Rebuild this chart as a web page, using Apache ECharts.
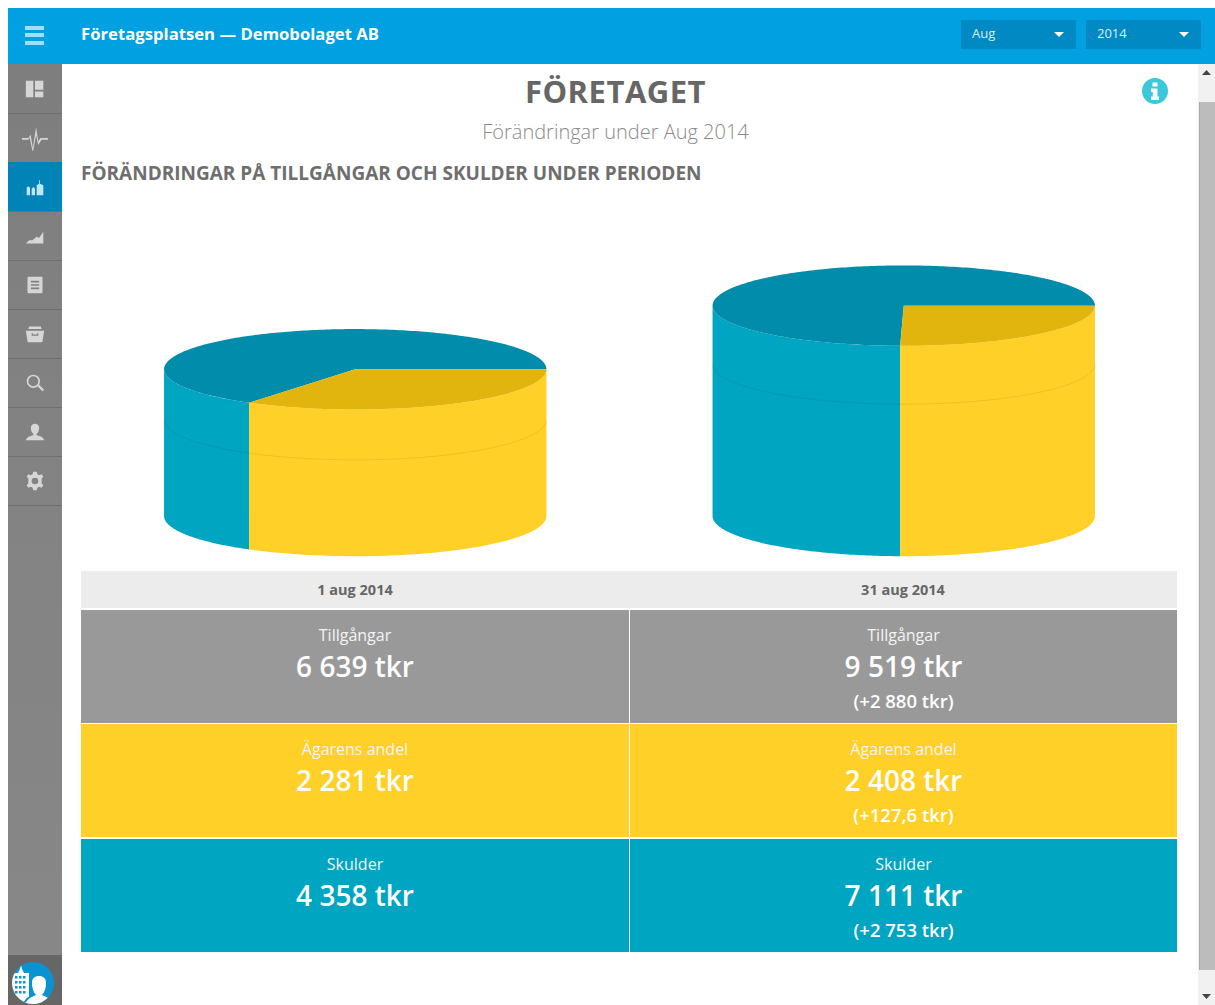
<!DOCTYPE html>
<html lang="sv">
<head>
<meta charset="utf-8">
<title>Företagsplatsen — Demobolaget AB</title>
<script src="https://cdn.jsdelivr.net/npm/echarts@6/dist/echarts.min.js"></script>
<style>
    html, body { margin: 0; height: 100%; background: #fff; overflow: hidden; font-family: 'Open Sans', 'Noto Sans', sans-serif; }
    .abs { position: absolute; }
    #topbar { left: 8px; top: 8px; width: 1207px; height: 56px; background: #00a0e1; }
    #brand { left: 81px; top: 23px; color: #fff; font-size: 16.7px; font-weight: 700; line-height: 22px; white-space: nowrap; }
    .burger { left: 25px; width: 19px; height: 4px; background: #a4def6; }
    .select { top: 20px; width: 115px; height: 29px; background: #0089c2; color: #d8f0fa; font-size: 13px; line-height: 27px; text-indent: 11px; }
    .select i { position: absolute; right: 12px; top: 12px; border: 5.500px solid transparent; border-top-color: #fff; border-bottom: 0; }
    #sidebar { left: 8px; top: 64px; width: 54px; height: 941px; background: linear-gradient(#7e7e7e, #888); }
    .nav { position: absolute; left: 0; width: 54px; height: 49px; box-sizing: border-box; border-top: 1px solid #6f6f6f; }
    .nav.active { background: #0083b7; border-top-color: #0083b7; }
    .nav svg { position: absolute; top: 14px; }
    #avatar { left: 8px; top: 955px; width: 54px; height: 50px; background: #666; overflow: hidden; }
    #scrollbar { left: 1198px; top: 64px; width: 17px; height: 941px; background: #f1f1f1; }
    #thumb { left: 1px; top: 38px; width: 16px; height: 868px; background: #bcbcbc; border-left: 1px solid #a8a8a8; box-sizing: border-box; }
    #title { left: 81px; width: 1069px; top: 71px; text-align: center; font-size: 31px; font-weight: 700; letter-spacing: 0.5px; color: #666; line-height: 40px; }
    #subtitle { left: 81px; width: 1069px; top: 118px; text-align: center; font-size: 20px; font-weight: 300; color: #8a8a8a; line-height: 28px; }
    #heading { left: 81px; top: 160px; font-size: 19px; font-weight: 700; color: #6e6e6e; line-height: 26px; white-space: nowrap; }
    #chart { left: 81px; top: 200px; width: 1097px; height: 370px; }
    #dates { left: 81px; top: 571px; width: 1096px; height: 37px; background: #ececec; }
    #dates div { position: absolute; top: 0; width: 548px; text-align: center; font-size: 14.500px; font-weight: 700; color: #666; line-height: 38px; }
    .cell { position: absolute; color: #fff; text-align: center; height: 113px; }
    .cell .label { position: absolute; left: 0; right: 0; top: 15px; font-size: 16px; line-height: 20px; color: #f4f4f4; }
    .cell .value { position: absolute; left: 0; right: 0; top: 37px; font-size: 28px; font-weight: 600; line-height: 38px; }
    .cell .delta { position: absolute; left: 0; right: 0; top: 79px; font-size: 18.500px; font-weight: 600; line-height: 24px; }
</style>
</head>
<body>
<div id="topbar" class="abs"></div>
<div class="abs burger" style="top:26px"></div>
<div class="abs burger" style="top:33px"></div>
<div class="abs burger" style="top:41px"></div>
<div id="brand" class="abs">Företagsplatsen — Demobolaget AB</div>
<div class="abs select" style="left:961px">Aug<i></i></div>
<div class="abs select" style="left:1086px">2014<i></i></div>

<div id="sidebar" class="abs"></div>
<div id="avatar" class="abs">
    <svg width="54" height="50" viewBox="0 0 54 50">
        <defs><clipPath id="round"><circle cx="25" cy="28" r="21"/></clipPath></defs>
        <circle cx="25" cy="28" r="21" fill="#0a93d0"/>
        <g clip-path="url(#round)">
            <path d="M4 50V18h6l2-4 1-4 1 4 2 4h5v32z" fill="#fff"/>
            <path d="M7 21h2.500v2.500H7zM11 21h2.500v2.500H11zM15 21h2.500v2.500H15zM7 26h2.500v2.500H7zM11 26h2.500v2.500H11zM15 26h2.500v2.500H15zM7 31h2.500v2.500H7zM11 31h2.500v2.500H11zM15 31h2.500v2.500H15zM7 36h2.500v2.500H7zM11 36h2.500v2.500H11zM15 36h2.500v2.500H15z" fill="#0a93d0"/>
            <path d="M15 52c0-8 6-11 11-13-3-3-4-7-4-11 0-6 4-9 9-9s9 3 9 9c0 4-1 8-4 11 5 2 11 5 11 13z" fill="#0a93d0"/>
            <path d="M17 52c0-7 6-10 11-12-3-3-4-8-4-12 0-5 3-7 7-7s7 2 7 7c0 4-1 9-4 12 5 2 11 5 11 12z" fill="#fff"/>
        </g>
    </svg>
</div>

<div id="scrollbar" class="abs">
    <div id="thumb" class="abs"></div>
    <svg class="abs" style="left:4px;top:6px" width="9" height="5"><path d="M0 5L4.500 0L9 5z" fill="#444"/></svg>
    <svg class="abs" style="left:4px;top:930px" width="9" height="5"><path d="M0 0L4.500 5L9 0z" fill="#444"/></svg>
</div>

<div id="title" class="abs">FÖRETAGET</div>
<div id="subtitle" class="abs">Förändringar under Aug 2014</div>
<div id="heading" class="abs">FÖRÄNDRINGAR PÅ TILLGÅNGAR OCH SKULDER UNDER PERIODEN</div>
<svg class="abs" style="left:1142px;top:78px" width="26" height="26" viewBox="0 0 26 26">
    <circle cx="13" cy="13" r="13" fill="#3cc8dc"/>
    <path d="M10.500 4.500h5v4h-5zM9 10.500h6.500v8H17v3.500H9v-3.500h1.800v-4.500H9z" fill="#fff"/>
</svg>

<div id="chart" class="abs"></div>
<div id="dates" class="abs"></div>
<div id="rows"></div>

<script>
    // Värden i tkr
    const dates = ['1 aug 2014', '31 aug 2014'];
    const assets = [6639, 9519];
    const ownerShare = [2281, 2408];
    const debts = [4358, 7111];
    const changes = [
        [null, '(+2 880 tkr)'],
        [null, '(+127,6 tkr)'],
        [null, '(+2 753 tkr)']
    ];
    const rowLabels = ['Tillgångar', 'Ägarens andel', 'Skulder'];
    // Den tunna ringen på cylindersidan, avstånd från ovansidan i tkr
    const ringDepth = [2281, 2640];

    const COLORS = {
        owner: '#ffd028', ownerTop: '#e2b50e',
        debt: '#00a5c2', debtTop: '#008caa',
        assets: '#999999'
    };
    const RADIUS_X = 191.2;
    const RADIUS_Y = 40.2;

    const fmt = (n) => String(n).replace(/\B(?=(\d{3})+$)/g, ' ') + ' tkr';

    // Sidomenyn
    const navIcons = [
        '<path d="M1 2h9v20H1zM12 2h10v11H12zM12 15h10v7H12z"/>',
        '<path d="M0 12h6l2-3 2 12 3-19 2 13 2-3h7v1.500h-6l-3 5-2-9-3 16-3-14-1 2H0z"/>',
        '<path d="M2 22v-9l2-2 2 2v9zM8 22v-8l2-2 2 2v8zM14 22V10l3-2V4h1v4l4 2v12z"/>',
        '<path d="M1 21l4-4 4 0 5-4 3 1 5-7v14z"/>',
        '<path d="M4 2h16a1 1 0 0 1 1 1v18a1 1 0 0 1-1 1H4a1 1 0 0 1-1-1V3a1 1 0 0 1 1-1zM7 7v2h10V7zM7 11v2h10v-2zM7 15v2h10v-2z" fill-rule="evenodd"/>',
        '<path d="M5 3h14l1 3H4zM1 8h22l-2 13a1 1 0 0 1-1 1H4a1 1 0 0 1-1-1zM8 11v3h8v-3h-1.500v1.500h-5V11z" fill-rule="evenodd"/>',
        '<path d="M10 2a8 8 0 1 1 0 16 8 8 0 0 1 0-16zm0 2a6 6 0 1 0 0 12 6 6 0 0 0 0-12zM15 16l2-2 6 6-2 2z" fill-rule="evenodd"/>',
        '<path d="M12 2c3 0 5 2 5 5 0 3-1 6-3 7v2c4 1 8 2 9 6H1c1-4 5-5 9-6v-2c-2-1-3-4-3-7 0-3 2-5 5-5z"/>',
        '<path d="M10 1h4l1 3 2 1 3-1 2 3-2 2v6l2 2-2 3-3-1-2 1-1 3h-4l-1-3-2-1-3 1-2-3 2-2V9L2 7l2-3 3 1 2-1zM12 8a4 4 0 1 0 0 8 4 4 0 0 0 0-8z" fill-rule="evenodd"/>'
    ];
    const sidebar = document.getElementById('sidebar');
    navIcons.forEach((icon, i) => {
        const fill = i === 2 ? '#bfe6f5' : '#d6d6d6';
        const size = i === 1 ? 26 : 20;
        const item = document.createElement('div');
        item.className = i === 2 ? 'nav active' : 'nav';
        item.style.top = `${i * 49}px`;
        if (i === 0) item.style.borderTopColor = 'transparent';
        item.innerHTML = `<svg style="left:${(54 - size) / 2}px;top:${(47 - size) / 2}px" width="${size}" height="${size}" viewBox="0 0 24 24" fill="${fill}">${icon}</svg>`;
        sidebar.appendChild(item);
    });
    const navEnd = document.createElement('div');
    navEnd.className = 'nav';
    navEnd.style.top = `${navIcons.length * 49}px`;
    navEnd.style.height = '1px';
    sidebar.appendChild(navEnd);

    // Tabellen under diagrammet
    const datesEl = document.getElementById('dates');
    dates.forEach((d, i) => {
        const el = document.createElement('div');
        el.style.left = `${i * 548}px`;
        el.textContent = d;
        datesEl.appendChild(el);
    });

    const rowValues = [assets, ownerShare, debts];
    const rowColors = [COLORS.assets, COLORS.owner, COLORS.debt];
    const rowTops = [610, 724, 839];
    const colLefts = [81, 630];
    const colWidths = [548, 547];
    const rowsEl = document.getElementById('rows');
    rowLabels.forEach((label, r) => {
        dates.forEach((d, c) => {
            const cell = document.createElement('div');
            cell.className = 'cell';
            cell.style.cssText = `left:${colLefts[c]}px;top:${rowTops[r]}px;width:${colWidths[c]}px;background:${rowColors[r]};`;
            let html = `<div class="label">${label}</div><div class="value">${fmt(rowValues[r][c])}</div>`;
            if (changes[r][c]) html += `<div class="delta">${changes[r][c]}</div>`;
            cell.innerHTML = html;
            rowsEl.appendChild(cell);
        });
    });

    // Cylindrarna: vinklarna räknas från 3 på klockan, medurs
    const rim = (cx, cy, fromDeg, toDeg) => {
        const points = [];
        const steps = Math.max(1, Math.ceil(Math.abs(toDeg - fromDeg)));
        for (let s = 0; s <= steps; s++) {
            const a = (fromDeg + (toDeg - fromDeg) * s / steps) * Math.PI / 180;
            points.push([cx + RADIUS_X * Math.cos(a), cy + RADIUS_Y * Math.sin(a)]);
        }
        return points;
    };

    const wedge = (fromShare, toShare, topColor, wallColor) => (params, api) => {
        const i = api.value(0);
        const total = ownerShare[i] + debts[i];
        const from = 360 * fromShare(i) / total;
        const to = 360 * toShare(i) / total;
        const [cx, baseY] = api.coord([i, 0]);
        const topY = api.coord([i, total])[1];
        const children = [];

        const wallTo = Math.min(to, 180);
        if (from < 180) {
            children.push({
                type: 'polygon',
                shape: { points: rim(cx, topY, from, wallTo).concat(rim(cx, baseY, wallTo, from)) },
                style: { fill: wallColor }
            });
        }
        children.push({
            type: 'polygon',
            shape: { points: [[cx, topY]].concat(rim(cx, topY, from, to)) },
            style: { fill: topColor }
        });
        return { type: 'group', children };
    };

    const renderRing = (params, api) => {
        const i = api.value(0);
        const total = ownerShare[i] + debts[i];
        const cx = api.coord([i, 0])[0];
        const y = api.coord([i, total - api.value(1)])[1];
        return {
            type: 'polyline',
            shape: { points: rim(cx, y, 0, 180) },
            style: { fill: 'none', stroke: 'rgba(0,0,0,0.07)', lineWidth: 1 }
        };
    };

    const toSeriesData = (values) => values.map((v, i) => [i, v]);

    const chart = echarts.init(document.getElementById('chart'));
    chart.setOption({
        animation: false,
        grid: { left: 0, right: 0, top: 95, bottom: 54 },
        xAxis: { type: 'category', data: dates, show: false },
        yAxis: { type: 'value', min: 0, max: 10000, show: false },
        series: [
            {
                name: 'Skulder',
                type: 'custom',
                data: toSeriesData(debts),
                renderItem: wedge((i) => ownerShare[i], (i) => ownerShare[i] + debts[i], COLORS.debtTop, COLORS.debt)
            },
            {
                name: 'Ägarens andel',
                type: 'custom',
                data: toSeriesData(ownerShare),
                renderItem: wedge(() => 0, (i) => ownerShare[i], COLORS.ownerTop, COLORS.owner)
            },
            {
                name: 'Ring',
                type: 'custom',
                silent: true,
                data: toSeriesData(ringDepth),
                renderItem: renderRing
            }
        ]
    });
</script>
</body>
</html>
